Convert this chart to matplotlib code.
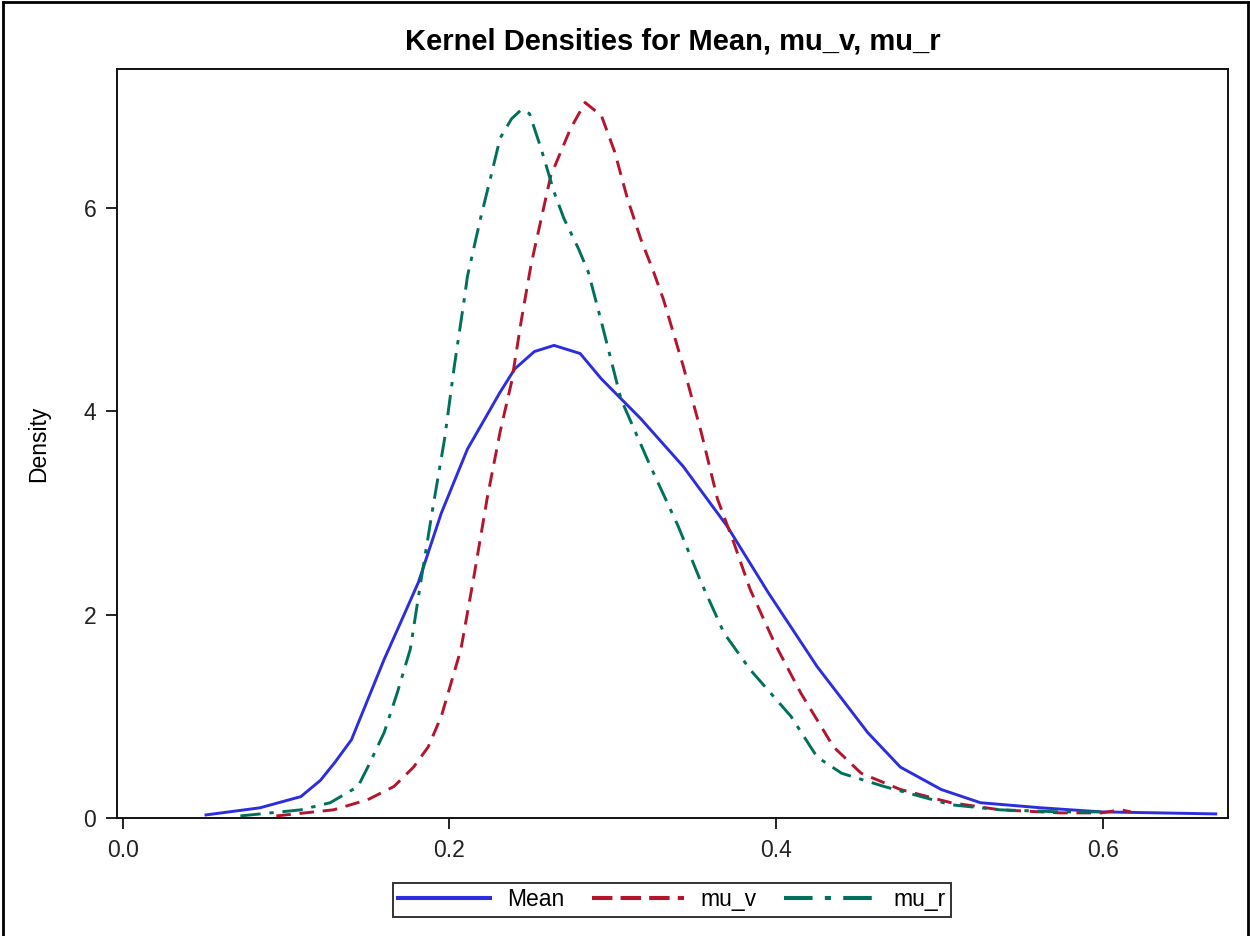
import matplotlib
matplotlib.use("Agg")
import matplotlib.pyplot as plt
from matplotlib.lines import Line2D
from matplotlib import font_manager

plt.rcParams['font.family'] = ['Liberation Sans', 'DejaVu Sans']
names = {f.name for f in font_manager.fontManager.ttflist}
narrow = 'Liberation Sans Narrow' if 'Liberation Sans Narrow' in names else 'Liberation Sans'

# ---- data ----
mean_x = [0.051, 0.084, 0.109, 0.121, 0.130, 0.140, 0.160, 0.170, 0.181, 0.195, 0.211,
          0.231, 0.240, 0.252, 0.264, 0.280, 0.293, 0.317, 0.343, 0.370, 0.395, 0.425,
          0.456, 0.476, 0.501, 0.525, 0.562, 0.599, 0.669]
mean_y = [0.03, 0.10, 0.21, 0.37, 0.55, 0.77, 1.56, 1.92, 2.32, 3.00, 3.63,
          4.19, 4.42, 4.59, 4.65, 4.57, 4.32, 3.93, 3.46, 2.87, 2.22, 1.49,
          0.84, 0.50, 0.28, 0.15, 0.10, 0.06, 0.04]

muv_x = [0.094, 0.129, 0.150, 0.166, 0.178, 0.187, 0.195, 0.201, 0.207, 0.215, 0.223,
         0.231, 0.238, 0.244, 0.250, 0.262, 0.274, 0.283, 0.293, 0.301, 0.309, 0.317,
         0.325, 0.331, 0.343, 0.354, 0.364, 0.374, 0.384, 0.399, 0.415, 0.435, 0.452,
         0.476, 0.507, 0.537, 0.574, 0.599, 0.611, 0.617]
muv_y = [0.02, 0.08, 0.18, 0.31, 0.50, 0.70, 1.00, 1.33, 1.66, 2.38, 3.14,
         3.80, 4.29, 4.90, 5.45, 6.32, 6.78, 7.04, 6.91, 6.56, 6.09, 5.70,
         5.37, 5.10, 4.45, 3.80, 3.14, 2.71, 2.25, 1.72, 1.23, 0.70, 0.44,
         0.28, 0.15, 0.08, 0.05, 0.05, 0.08, 0.06]

mur_x = [0.072, 0.109, 0.127, 0.144, 0.150, 0.160, 0.168, 0.176, 0.182, 0.190, 0.197,
         0.203, 0.209, 0.211, 0.219, 0.225, 0.231, 0.238, 0.244, 0.249, 0.256, 0.264,
         0.270, 0.279, 0.285, 0.293, 0.305, 0.323, 0.340, 0.354, 0.368, 0.384, 0.409,
         0.425, 0.440, 0.466, 0.507, 0.537, 0.574, 0.599]
mur_y = [0.02, 0.08, 0.15, 0.31, 0.50, 0.84, 1.23, 1.66, 2.28, 3.07, 3.73,
         4.45, 5.10, 5.33, 5.90, 6.29, 6.69, 6.88, 6.97, 6.93, 6.59, 6.16,
         5.90, 5.60, 5.37, 4.88, 4.12, 3.46, 2.87, 2.32, 1.82, 1.46, 1.00,
         0.60, 0.44, 0.31, 0.13, 0.08, 0.06, 0.06]

series_names = ["Mean", "mu_v", "mu_r"]
x_ticks = [0.0, 0.2, 0.4, 0.6]
x_tick_labels = ["0.0", "0.2", "0.4", "0.6"]
y_ticks = [0, 2, 4, 6]
y_tick_labels = ["0", "2", "4", "6"]

# ---- styles ----
c_blue = '#2d2de0'
c_red = '#b5142d'
c_teal = '#00705c'
lw = 2.1

fig = plt.figure(figsize=(12.5, 9.36), dpi=100)
ax = fig.add_axes([0.0936, 0.1261, 0.8888, 0.8002])

ax.plot(mean_x, mean_y, color=c_blue, lw=lw, linestyle='-', label=series_names[0])
ax.plot(muv_x, muv_y, color=c_red, lw=lw, linestyle=(0, (5, 3)), label=series_names[1])
ax.plot(mur_x, mur_y, color=c_teal, lw=lw, linestyle=(0, (7, 3, 1.5, 3)), label=series_names[2])

ax.set_xlim(-0.0035, 0.6765)
ax.set_ylim(0, 7.37)
ax.set_xticks(x_ticks)
ax.set_yticks(y_ticks)
ax.set_xticklabels(x_tick_labels, family=narrow, fontsize=16.5)
ax.set_yticklabels(y_tick_labels, family=narrow, fontsize=16.5)
ax.tick_params(direction='out', length=8, width=1.4, colors='#222222', pad=7)
for s in ax.spines.values():
    s.set_linewidth(1.4)
    s.set_color('#111111')

ax.set_ylabel("Density", fontsize=16.5, labelpad=24, family=narrow)
ax.set_title("Kernel Densities for Mean, mu_v, mu_r", fontsize=21, fontweight='bold', pad=14)

handles = [
    Line2D([], [], color=c_blue, lw=lw * 1.4, linestyle='-'),
    Line2D([], [], color=c_red, lw=lw * 1.4, linestyle=(0, (5, 2))),
    Line2D([], [], color=c_teal, lw=lw * 1.4, linestyle=(0, (7, 3, 1.5, 3))),
]
leg = fig.legend(handles, series_names, loc='center', bbox_to_anchor=(0.5376, 0.0385),
                 ncol=3, fontsize=16.5, frameon=True, fancybox=False, edgecolor='black',
                 handlelength=4.0, handletextpad=0.75, columnspacing=1.2,
                 borderpad=0.25, borderaxespad=0)
leg.get_frame().set_linewidth(1.4)

# figure border
fig.add_artist(Line2D([0.0025, 0.0025], [0, 0.998], transform=fig.transFigure, color='black', lw=2))
fig.add_artist(Line2D([0.0025, 0.9985], [0.998, 0.998], transform=fig.transFigure, color='black', lw=2))
fig.add_artist(Line2D([0.9985, 0.9985], [0, 0.998], transform=fig.transFigure, color='black', lw=2))

fig.savefig("out.png", dpi=100)
